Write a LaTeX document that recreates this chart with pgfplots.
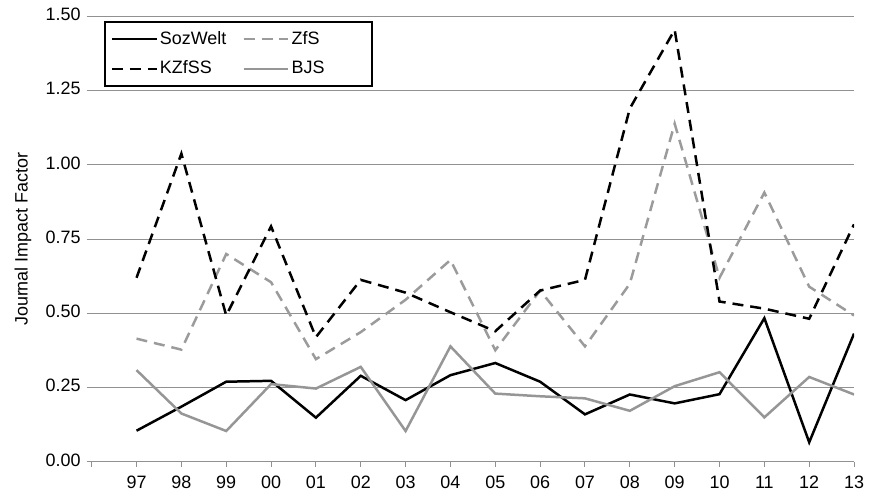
\documentclass[border=0pt]{standalone}
\usepackage{fontspec}
\setmainfont{Liberation Sans}
\usepackage{pgfplots}
\pgfplotsset{compat=1.18}
\definecolor{gridgray}{RGB}{145,145,145}
\definecolor{bjsgray}{RGB}{150,150,150}
\definecolor{zfsgray}{RGB}{155,155,155}
\begin{document}
\fontsize{18}{21}\selectfont
\begin{tikzpicture}
\begin{axis}[
  name=ax,
  scale only axis, width=765pt, height=447pt,
  xmin=-1, xmax=16, ymin=0, ymax=1.5,
  xtick={-1,...,16},
  xticklabels={,97,98,99,00,01,02,03,04,05,06,07,08,09,10,11,12,13},
  ytick={0,0.25,0.5,0.75,1,1.25,1.5},
  yticklabel style={/pgf/number format/.cd, fixed, fixed zerofill, precision=2},
  /pgf/number format/assume math mode=true,
  typeset ticklabels with strut,
  ticklabel style={font=\fontsize{18}{21}\selectfont},
  ymajorgrids,
  grid style={gridgray, line width=1pt},
  axis x line*=bottom, axis y line*=left,
  axis line style={-},
  x axis line style={gridgray, line width=1pt},
  y axis line style={draw=none},
  tick align=outside, major tick length=5pt,
  tick style={gridgray, line width=1pt},
  xticklabel style={yshift=-1pt},
  ylabel={Journal Impact Factor},
  ylabel style={font=\fontsize{18}{21}\selectfont, yshift=2pt},
  legend columns=2,
  legend cell align=left,
  legend style={at={(axis description cs:0.0157,0.989)}, anchor=north west,
    draw=black, line width=2pt, font=\fontsize{18}{21}\selectfont,
    inner xsep=6pt, inner ysep=7pt, row sep=10pt,
    /tikz/every even column/.append style={column sep=14pt}},
  legend image code/.code={\draw[#1] (0pt,0pt) -- (45pt,0pt);},
]
\addplot[black, line width=2.5pt] coordinates {
(0,0.105) (1,0.186) (2,0.270) (3,0.273) (4,0.149) (5,0.290) (6,0.208) (7,0.292)
(8,0.333) (9,0.270) (10,0.160) (11,0.227) (12,0.197) (13,0.228) (14,0.484) (15,0.066) (16,0.432)};
\addlegendentry{SozWelt}
\addplot[zfsgray, line width=2.5pt, dash pattern=on 11pt off 7pt] coordinates {
(0,0.415) (1,0.378) (2,0.700) (3,0.605) (4,0.346) (5,0.437) (6,0.546) (7,0.680)
(8,0.376) (9,0.577) (10,0.389) (11,0.600) (12,1.139) (13,0.620) (14,0.907) (15,0.590) (16,0.493)};
\addlegendentry{ZfS\hspace*{40pt}}
\addplot[black, line width=2.5pt, dash pattern=on 11pt off 7pt] coordinates {
(0,0.620) (1,1.038) (2,0.493) (3,0.793) (4,0.420) (5,0.613) (6,0.570) (7,0.504)
(8,0.440) (9,0.577) (10,0.613) (11,1.190) (12,1.455) (13,0.540) (14,0.516) (15,0.482) (16,0.800)};
\addlegendentry{KZfSS}
\addplot[bjsgray, line width=2.5pt] coordinates {
(0,0.309) (1,0.163) (2,0.104) (3,0.262) (4,0.247) (5,0.320) (6,0.104) (7,0.389)
(8,0.230) (9,0.221) (10,0.214) (11,0.172) (12,0.255) (13,0.302) (14,0.150) (15,0.286) (16,0.227)};
\addlegendentry{BJS\hspace*{40pt}}
\end{axis}
\path ([xshift=-92pt,yshift=-29pt]ax.south west) rectangle ([xshift=13pt,yshift=15pt]ax.north east);
\end{tikzpicture}
\end{document}
